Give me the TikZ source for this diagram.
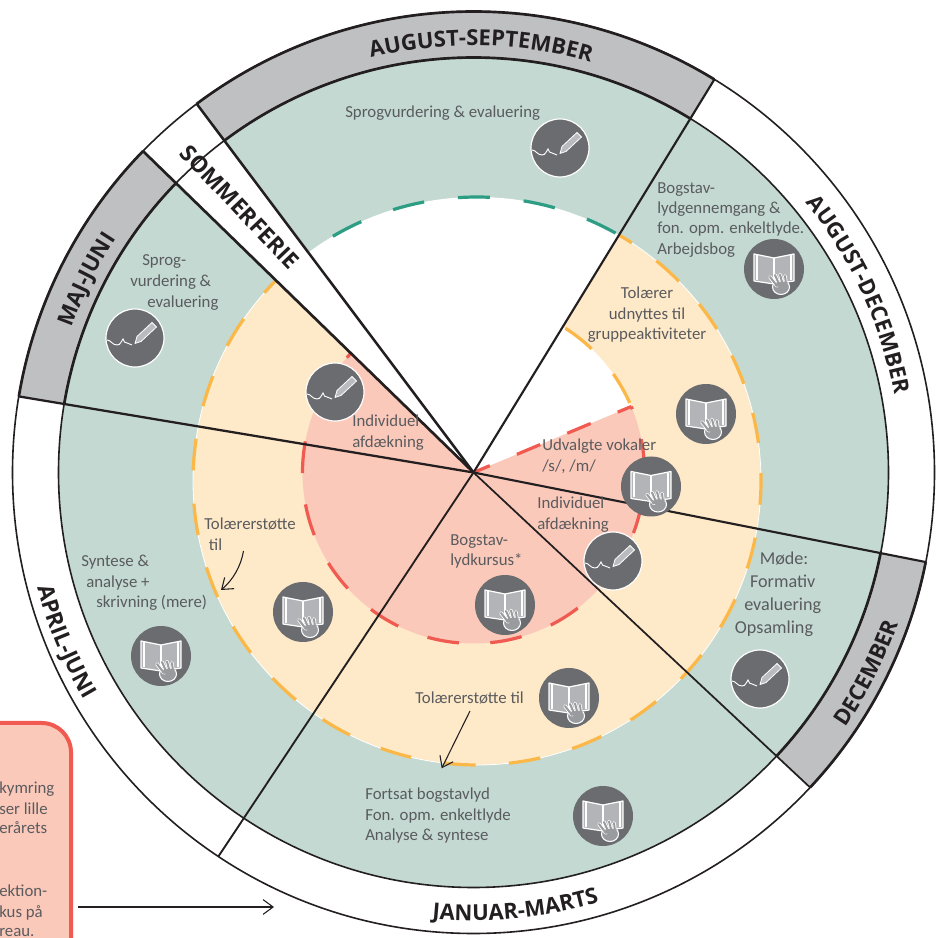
\documentclass[tikz,border=0pt]{standalone}
\usepackage{fontspec}
\usetikzlibrary{decorations.text,arrows.meta}
\setmainfont{Carlito}
\newfontfamily\labfam{Open Sans}
\definecolor{gr}{HTML}{C3D9D1}
\definecolor{ye}{HTML}{FEE9C8}
\definecolor{pk}{HTML}{FBC9BA}
\definecolor{rd}{HTML}{F05A50}
\definecolor{yd}{HTML}{FBB848}
\definecolor{td}{HTML}{2D9E84}
\definecolor{rg}{HTML}{BFC0C2}
\definecolor{ic}{HTML}{6B6C70}
\definecolor{bk}{HTML}{B2B4B7}
\definecolor{tx}{HTML}{5A5B5E}
\definecolor{ln}{HTML}{231F20}
\newcommand\ringsec[2]{(C)++(#1:415) arc[start angle=#1,end angle=#2,radius=415] -- ++(#2:46) arc[start angle=#2,end angle=#1,radius=461] -- cycle}
\newcommand\bandlab[5]{\path[decorate,decoration={text along path,text align=center,text={|\labfam\bfseries\fontsize{#5}{#5}\selectfont\color{ln}|#1}}] (C)++(#2:#4) arc[start angle=#2,end angle=#3,radius=#4];}
\newcommand\finger[4]{\draw[white,line width=2.7pt,line cap=round] (#1,#2)--(#3,#4); \draw[ic!35!bk,line width=1.5pt,line cap=round] (#1,#2)--(#3,#4);}
\tikzset{
 x=.75pt,y=.75pt,
 txt/.style={text=tx,font=\fontsize{12.6}{15.3}\selectfont,align=left,inner sep=0pt},
 dsh/.style={line width=2.4pt},
 arr/.style={color=ln,line width=.8pt,-{Straight Barb[length=7.5pt,width=11pt,line width=.8pt]}},
 bookicon/.pic={
  \fill[ic] (0,0) circle[radius=30];
  \filldraw[fill=bk,draw=white,line width=.9pt,line join=round] (-20,15)--(0,11)--(20,15)--(20,-12)--(0,-15)--(-20,-12)--cycle;
  \draw[white,line width=.8pt] (0,11)--(0,-15) (-17,13.5)--(-17,-11) (17,13.5)--(17,-11);
  \filldraw[fill=ic!35!bk,draw=white,line width=.8pt] (7,-18) circle[x radius=8.5,y radius=7.5];
  \finger{-4}{-8}{3}{-17}
  \finger{1}{-6}{5}{-15}
  \finger{6}{-5.5}{8.5}{-15}
  \finger{11}{-7}{12}{-15}
  \fill[ic!35!bk] (1,-17) -- (3,-13) -- (13.5,-13) -- (14,-19) -- cycle;
 },
 penicon/.pic={
  \filldraw[fill=ic,draw=white,line width=.9pt] (0,0) circle[radius=29];
  \filldraw[fill=bk!90!white,draw=white,line width=.6pt,line join=round] (0,-5.5) -- (2,1.5) -- (17,15.5) -- (21.5,11) -- (6,-3.5) -- cycle;
  \draw[white,line width=.7pt] (-28,-2) .. controls (-24,-2) and (-23,-7) .. (-18,-7) .. controls (-14,-7) and (-14,-3) .. (-12,-1) .. controls (-10,-3) and (-11,-6) .. (-8,-5) .. controls (-6,-5) and (-5,-7) .. (-3,-7);
 }
}
\begin{document}
\begin{tikzpicture}
\useasboundingbox (0,0) rectangle (936,938);
\coordinate (C) at (473.5,465.5);
\coordinate (Y) at (477,457);
\fill[white] (0,0) rectangle (936,938);
% pink box
\begin{scope}
\clip (0,0) rectangle (936,938);
\filldraw[fill=pk,draw=rd,line width=3pt,rounded corners=22pt] (-60,-60) rectangle (71,215);
\end{scope}
\begin{scope}
\clip (0,0) rectangle (70,938);
\node[txt,anchor=base west] (p1) at (-1,144) {kymring};
\node[txt,anchor=base west] (p2) at (-1,123) {ser lille};
\node[txt,anchor=base west] (p3) at (-1,104) {erårets};
\node[txt,anchor=base west] (p4) at (-1,41) {ektion-};
\node[txt,anchor=base west] (p5) at (-1,21) {kus på};
\node[txt,anchor=base west] (p6) at (-1,2) {reau.};
\end{scope}
% discs
\fill[gr] (C) circle[radius=415];
\fill[rg] \ringsec{58.5}{126.9};
\fill[rg] \ringsec{135.8}{170.5};
\fill[rg] \ringsec{316.9}{348.8};
% inner white top
\begin{scope}
\clip (C) -- ++(58.5:500) arc[start angle=58.5,end angle=126.9,radius=500] -- cycle;
\fill[white] (Y) circle[radius=284];
\draw[td,dsh,dash pattern=on 24pt off 25.5pt] (Y)++(120.5:284) arc[start angle=120.5,end angle=58.5,radius=284];
\end{scope}
% yellow
\begin{scope}
\clip (C) -- ++(135.8:600) arc[start angle=135.8,end angle=418.5,radius=600] -- cycle;
\fill[ye] (Y) circle[radius=284];
\draw[white,line width=.6pt] (Y) circle[radius=284];
\draw[yd,dsh,dash pattern=on 23.8pt off 25pt] (Y)++(132.07:284) arc[start angle=132.07,end angle=366,radius=284];
\draw[yd,dsh,dash pattern=on 23pt off 22.8pt] (Y)++(367.7:284) arc[start angle=367.7,end angle=420,radius=284];
\end{scope}
% sommerferie wedge
\fill[white] (C) -- ++(126.9:461) arc[start angle=126.9,end angle=135.8,radius=461] -- cycle;
% white + red
\fill[white] (C) -- ++(22.7:171) arc[start angle=22.7,end angle=58.5,radius=171] -- cycle;
\fill[pk] (C) -- ++(135.8:171) arc[start angle=135.8,end angle=382.7,radius=171] -- cycle;
\draw[rd,dsh,dash pattern=on 24pt off 23.5pt,dash phase=19.5pt] (C)++(135.8:171) arc[start angle=135.8,end angle=382.7,radius=171];
\draw[yd,dsh,dash pattern=on 25pt off 25pt] (C)++(57.5:171) arc[start angle=57.5,end angle=23,radius=171];
\draw[rd,dsh,dash pattern=on 11pt off 22pt on 19pt off 22pt on 19pt off 22pt on 13pt] (C)++(22.7:171) -- (C);
% radial lines + rings
\foreach \a/\w in {58.5/1.6,126.9/1.9,135.8/2,170.5/1.7,236.4/1.4,316.9/1.3,348.8/1.6} \draw[color=ln,line width=\w pt] (C) -- ++(\a:461);
\draw[color=ln,line width=1.2pt] (C) circle[radius=415];
\draw[color=ln,line width=1.2pt] (C) circle[radius=461];
\draw[color=ln,line width=2pt] (C)++(58.5:415) arc[start angle=58.5,end angle=126.9,radius=415];
\draw[color=ln,line width=2pt] (C)++(58.5:461) arc[start angle=58.5,end angle=126.9,radius=461];
\draw[color=ln,line width=2pt] (C)++(135.8:415) arc[start angle=135.8,end angle=170.5,radius=415];
\draw[color=ln,line width=2pt] (C)++(135.8:461) arc[start angle=135.8,end angle=170.5,radius=461];
\draw[color=ln,line width=2pt] (C)++(316.9:415) arc[start angle=316.9,end angle=348.8,radius=415];
\draw[color=ln,line width=2pt] (C)++(316.9:461) arc[start angle=316.9,end angle=348.8,radius=461];
% icons
\pic at (560,790) {penicon};
\pic at (774,669) {bookicon};
\pic at (706,524) {bookicon};
\pic at (651,451.5) {bookicon};
\pic at (613,377) {penicon};
\pic at (505,333) {bookicon};
\pic at (335,546) {penicon};
\pic at (135,600) {penicon};
\pic at (303,326) {bookicon};
\pic at (161,282) {bookicon};
\pic at (569,240) {bookicon};
\pic at (603,122) {bookicon};
\pic at (760,259) {penicon};
% band labels
\bandlab{AUGUST-SEPTEMBER}{112}{66}{427}{16.5}
\bandlab{AUGUST-DECEMBER}{52.8}{-3.2}{428}{16.5}
\bandlab{MAJ-JUNI}{172}{135}{427}{16.5}
\bandlab{APRIL-JUNI}{179.5}{225.5}{451}{16.8}
\bandlab{JANUAR-MARTS}{250}{301}{448}{16.5}
\bandlab{DECEMBER}{317}{349}{451}{16.5}
\node[rotate=-46.5,font=\labfam\bfseries\fontsize{17}{17}\selectfont,text=ln,inner sep=0pt] (som) at (240,731) {SOMMERFERIE};
% texts
\node[txt,anchor=west] (t1) at (345,825) {Sprogvurdering \& evaluering};
\node[txt,anchor=north west] (t2) at (657,756) {Bogstav-\\lydgennemgang \&\\fon. opm. enkeltlyde.\\Arbejdsbog};
\node[txt,anchor=center,align=center] (t3) at (647,623) {Tolærer\\udnyttes til\\gruppeaktiviteter};
\node[txt,anchor=north west] (t4) at (542,499) {Udvalgte vokaler\\/s/, /m/};
\node[txt,anchor=north west] (t5) at (537,441) {Individuel\\afdækning};
\node[txt,anchor=center,align=center,font=\fontsize{13.6}{17.2}\selectfont] (t6) at (780,344) {\hspace*{6pt}Møde:\\\hspace*{4pt}Formativ\\\hspace*{4pt}evaluering\\\hspace*{-9pt}Opsamling};
\node[txt,anchor=north west] (t7) at (450,404) {Bogstav-\\lydkursus*};
\node[txt,anchor=west] (t8) at (415,240) {Tolærerstøtte til};
\node[txt,anchor=north west] (t9) at (365,150) {Fortsat bogstavlyd\\Fon. opm. enkeltlyde\\Analyse \& syntese};
\node[txt,anchor=north west] (t10) at (204,420) {Tolærerstøtte\\\hspace*{3.5pt}til};
\node[txt,anchor=west] (t11) at (81,376) {Syntese \&};
\node[txt,anchor=west] (t12) at (86,355) {analyse +};
\node[txt,anchor=west] (t13) at (96,335) {skrivning (mere)};
\node[txt,anchor=west] (t14) at (142,676) {Sprog-};
\node[txt,anchor=west] (t15) at (130,656) {vurdering \&};
\node[txt,anchor=west] (t16) at (147,635) {evaluering};
\node[txt,anchor=north west] (t17) at (352,523) {Individuel\\afdækning};
% arrows
\coordinate (a1s) at (243.5,387);
\coordinate (a1e) at (221,348);
\draw[arr] (a1s) .. controls (241,372) and (233,358) .. (a1e);
\coordinate (a2s) at (470,227);
\coordinate (a2e) at (441.7,169.7);
\draw[arr] (a2s) -- (a2e);
\coordinate (a3s) at (78,31);
\coordinate (a3e) at (274,31);
\draw[arr] (a3s) -- (a3e);
\end{tikzpicture}
\end{document}
